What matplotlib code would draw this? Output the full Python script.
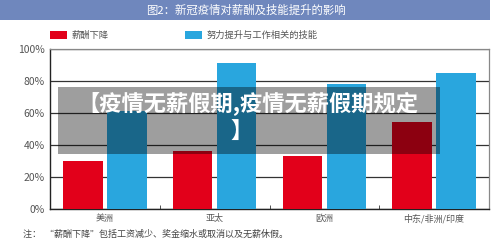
import matplotlib
matplotlib.use("Agg")
import matplotlib.pyplot as plt
import numpy as np
from matplotlib.patches import Rectangle

plt.rcParams['font.family'] = ['Noto Sans CJK SC', 'DejaVu Sans']

categories = ["美洲", "亚太", "欧洲", "中东/非洲/印度"]
salary_cut = [30, 36, 33, 54]
skill_up = [61, 91, 78, 85]
series_names = ["薪酬下降", "努力提升与工作相关的技能"]
yticks = [0, 20, 40, 60, 80, 100]
ytick_labels = ["0%", "20%", "40%", "60%", "80%", "100%"]
title = "图2：新冠疫情对薪酬及技能提升的影响"
note = "注：  “薪酬下降”包括工资减少、奖金缩水或取消以及无薪休假。"
watermark_line1 = "【疫情无薪假期,疫情无薪假期规定"
watermark_line2 = "】"

RED = "#e2001a"
BLUE = "#29a6de"
TXT = "#555555"

fig = plt.figure(figsize=(5, 2.41), dpi=100)
fig.patch.set_facecolor("white")

# title banner
fig.patches.append(Rectangle((0, 1 - 20/241), 490/500, 20/241, transform=fig.transFigure,
                             facecolor="#6f87bd", edgecolor="none", zorder=0))
fig.text(246/500, 1 - 10/241, title, color="white", fontsize=8.2, ha="center", va="center")

ax = fig.add_axes([50/500, (241-208.7)/241, 439/500, 160/241])
x = np.arange(len(categories))
w = 0.36
ax.bar(x - 0.2, salary_cut, width=w, color=RED, zorder=3)
ax.bar(x + 0.2, skill_up, width=w, color=BLUE, zorder=3)
ax.set_xlim(-0.5, len(categories) - 0.5)
ax.set_ylim(0, 100)
ax.set_yticks(yticks)
ax.set_yticklabels(ytick_labels, color=TXT, fontsize=7.5)
ax.tick_params(axis="y", length=0, pad=4)
ax.set_xticks(x)
ax.set_xticklabels(categories, color=TXT, fontsize=6.5)
ax.tick_params(axis="x", length=0, pad=4)
ax.set_xticks(np.arange(0.5, len(categories) - 0.5, 1), minor=True)
ax.tick_params(axis="x", which="minor", direction="in", length=3, color="#333333")
ax.yaxis.grid(True, color="#333333", linewidth=0.9, zorder=1)
ax.set_axisbelow(True)
for s in ["left", "bottom"]:
    ax.spines[s].set_color("#222222")
    ax.spines[s].set_linewidth(1.0)
for s in ["top", "right"]:
    ax.spines[s].set_color("#888888")
    ax.spines[s].set_linewidth(0.9)

# legend
fig.patches.append(Rectangle((50/500, 1 - 39/241), 17/500, 8/241, transform=fig.transFigure,
                             facecolor=RED, edgecolor="none"))
fig.text(72/500, 1 - 35/241, series_names[0], color=TXT, fontsize=6.7, va="center")
fig.patches.append(Rectangle((185/500, 1 - 39/241), 17/500, 8/241, transform=fig.transFigure,
                             facecolor=BLUE, edgecolor="none"))
fig.text(207/500, 1 - 35/241, series_names[1], color=TXT, fontsize=6.7, va="center")

# note
fig.text(23/500, 1 - 234/241, note, color="#444444", fontsize=6.5, va="center")

# watermark overlay
fig.patches.append(Rectangle((58/500, 1 - 154/241), 382/500, 67/241, transform=fig.transFigure,
                             facecolor="black", alpha=0.38, edgecolor="none", zorder=10))
fig.text(248/500, 1 - 104/241, watermark_line1, color="white", fontsize=16,
         fontweight="heavy", ha="center", va="center", zorder=11)
fig.text(242/500, 1 - 131/241, watermark_line2, color="white", fontsize=16,
         fontweight="heavy", ha="center", va="center", zorder=11)

fig.savefig("out.png", dpi=100)
